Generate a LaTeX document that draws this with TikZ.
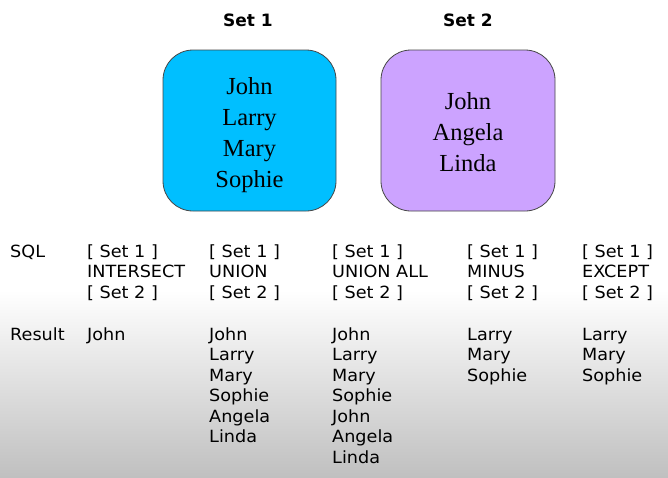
\documentclass[tikz,border=0pt]{standalone}
\usepackage{fontspec}
\setmainfont[FakeStretch=1.05]{DejaVu Sans}
\newfontfamily\titlefont{DejaVu Sans}
\newfontfamily\boxfont{Liberation Serif}
\definecolor{setblue}{RGB}{0,191,255}
\definecolor{setviolet}{RGB}{204,163,255}
\definecolor{boxline}{RGB}{70,70,70}
\definecolor{bottomgray}{RGB}{192,192,192}
\begin{document}
\begin{tikzpicture}[x=1pt,y=-1pt,
  setbox/.style={draw=boxline, line width=0.8pt, rounded corners=30pt},
  settitle/.style={font=\titlefont\fontsize{17}{20}\selectfont\bfseries, anchor=center},
  setitems/.style={font=\boxfont\fontsize{24.5}{31}\selectfont, align=center, anchor=center},
  celltext/.style={font=\fontsize{16.8}{20.7}\selectfont, align=left, anchor=base west, inner sep=0pt},
  restext/.style={celltext, font=\fontsize{16.8}{20.5}\selectfont}]
\useasboundingbox (0,0) rectangle (668,477);
\fill[white] (0,0) rectangle (668,290);
\shade[top color=white, bottom color=bottomgray] (0,290) rectangle (668,477);
% set boxes
\draw[setbox, fill=setblue] (163,50) rectangle (336,211);
\draw[setbox, fill=setviolet] (381,50) rectangle (555,211);
\node[settitle] (t1) at (248,20) {Set 1};
\node[settitle] (t2) at (468,20) {Set 2};
\node[setitems] (s1) at (249.5,135) {John\\Larry\\Mary\\Sophie};
\node[setitems] (s2) at (468,132) {John\\Angela\\Linda};
% table (anchor is the baseline of the last line)
\node[celltext] (sql) at (10,257) {SQL};
\node[celltext] (q1) at (87,298.4) {{[} Set 1 {]}\\INTERSECT\\{[} Set 2 {]}};
\node[celltext] (q2) at (209,298.4) {{[} Set 1 {]}\\UNION\\{[} Set 2 {]}};
\node[celltext] (q3) at (332,298.4) {{[} Set 1 {]}\\UNION ALL\\{[} Set 2 {]}};
\node[celltext] (q4) at (467,298.4) {{[} Set 1 {]}\\MINUS\\{[} Set 2 {]}};
\node[celltext] (q5) at (582,298.4) {{[} Set 1 {]}\\EXCEPT\\{[} Set 2 {]}};
\node[restext] (res) at (10,340) {Result};
\node[restext] (r1) at (87,340) {John};
\node[restext] (r2) at (209,442.5) {John\\Larry\\Mary\\Sophie\\Angela\\Linda};
\node[restext] (r3) at (332,463) {John\\Larry\\Mary\\Sophie\\John\\Angela\\Linda};
\node[restext] (r4) at (467,381) {Larry\\Mary\\Sophie};
\node[restext] (r5) at (582,381) {Larry\\Mary\\Sophie};
\end{tikzpicture}
\end{document}
